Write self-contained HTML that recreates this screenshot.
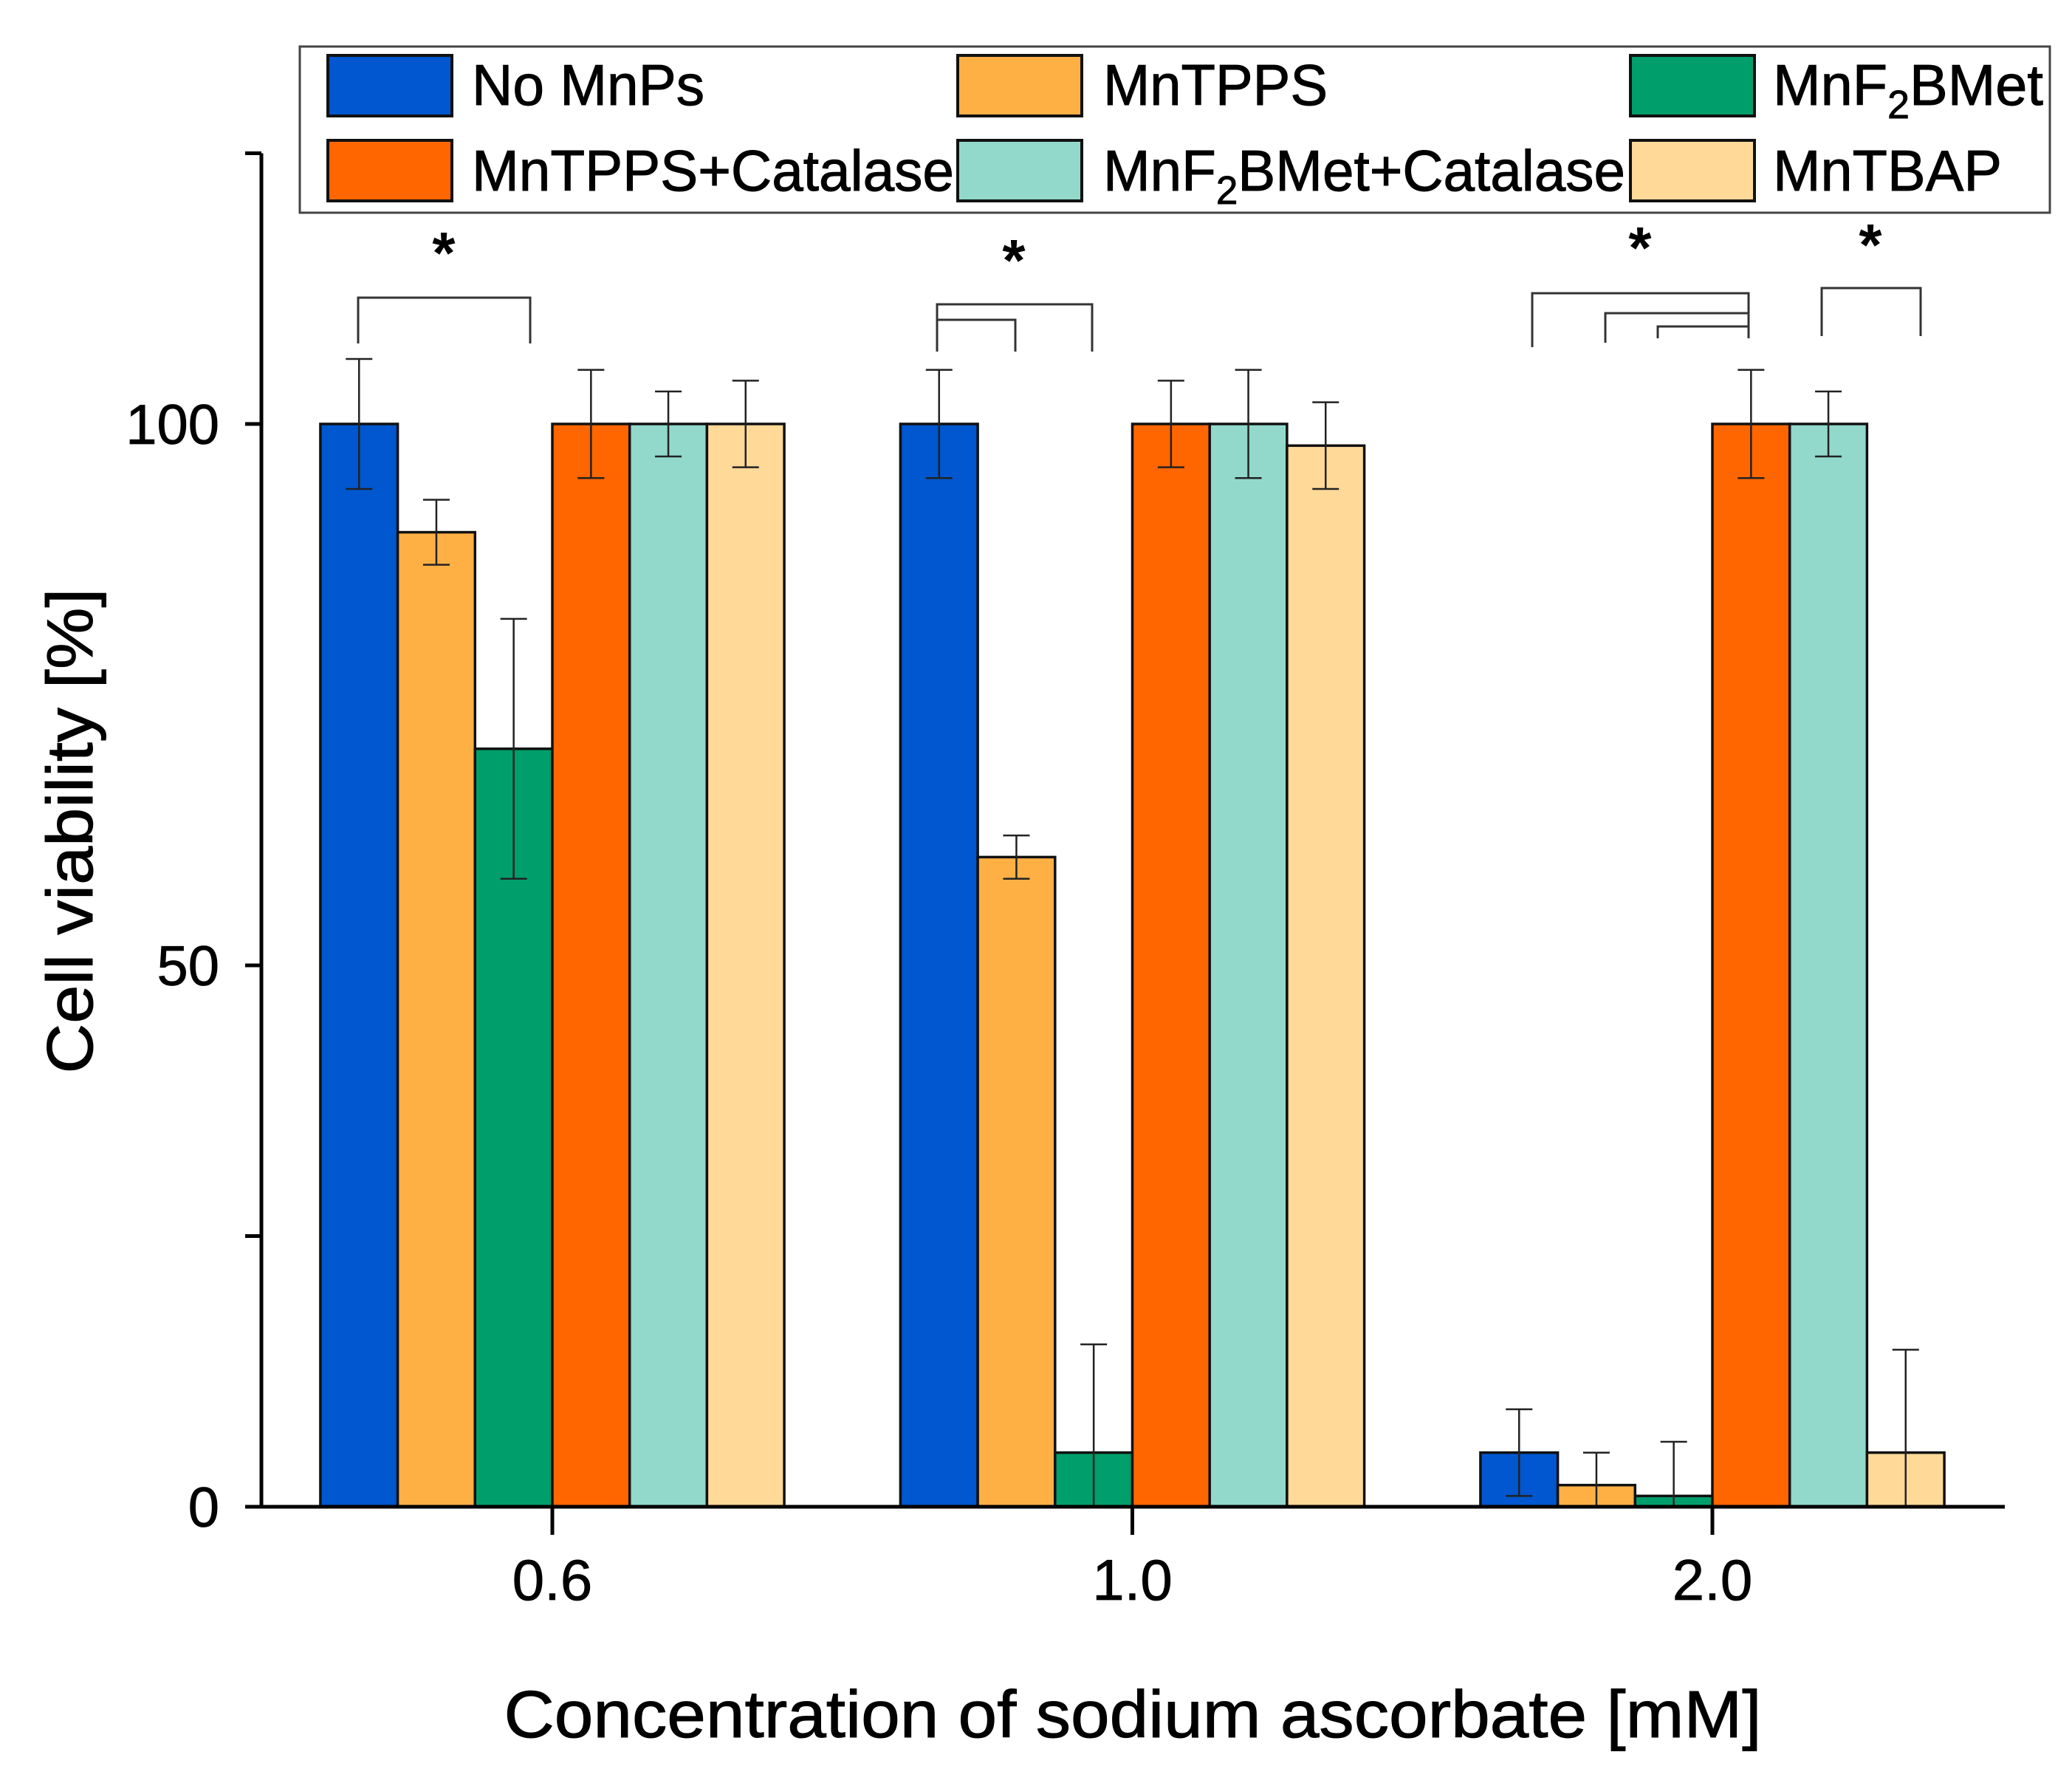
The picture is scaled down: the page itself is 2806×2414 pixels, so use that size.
<!DOCTYPE html>
<html><head><meta charset="utf-8"><style>
html,body{margin:0;padding:0;background:#fff;}
svg{display:block;font-family:"Liberation Sans",Arial,sans-serif;}
</style></head><body>
<svg id="chart" width="2806" height="2414" viewBox="0 0 2806 2414" xmlns="http://www.w3.org/2000/svg">
<g id="bars"></g>
<g id="errs"></g>
<g id="axes"></g>
<g id="sig" stroke="#333" stroke-width="3" fill="none">
  <path d="M485 465 V403 H718 V465"/>
  <path d="M1269 476 V412 H1479 V476"/>
  <path d="M1269 476 V433 H1375 V476"/>
  <path d="M2075 470 V397 H2368 V458"/>
  <path d="M2174 464 V424 H2368"/>
  <path d="M2245 458 V442 H2368"/>
  <path d="M2467 455 V390 H2601 V455"/>
</g>
<g font-size="80" font-weight="bold" text-anchor="middle">
  <text x="601" y="370">*</text>
  <text x="1373" y="380">*</text>
  <text x="2221" y="363">*</text>
  <text x="2533" y="359">*</text>
</g>
<g id="legend"></g>
<text x="0" y="0" font-size="88" text-anchor="middle" transform="translate(125,1125) rotate(-90)" textLength="657" lengthAdjust="spacingAndGlyphs" stroke="#000" stroke-width="1">Cell viability [%]</text>
<text x="1534" y="2352" font-size="90" text-anchor="middle" textLength="1703" lengthAdjust="spacingAndGlyphs" stroke="#000" stroke-width="1">Concentration of sodium ascorbate [mM]</text>
</svg>
<script>
const categories = ["0.6", "1.0", "2.0"];
const seriesNames = ["No MnPs", "MnTPPS", "MnF2BMet", "MnTPPS+Catalase", "MnF2BMet+Catalase", "MnTBAP"];
const seriesColors = ["#0057CF", "#FFB045", "#009E6B", "#FF6600", "#92D9CB", "#FFD998"];
const sNoMnPs = [100, 100, 5];
const sNoMnPsErr = [6, 5, 4];
const sMnTPPS = [90, 60, 2];
const sMnTPPSErr = [3, 2, 3];
const sMnF2BMet = [70, 5, 1];
const sMnF2BMetErr = [12, 10, 5];
const sMnTPPSCat = [100, 100, 100];
const sMnTPPSCatErr = [5, 4, 5];
const sMnF2BMetCat = [100, 100, 100];
const sMnF2BMetCatErr = [3, 5, 3];
const sMnTBAP = [100, 98, 5];
const sMnTBAPErr = [4, 4, 9.5];
const yTicks = [0, 50, 100];
const yMinorTicks = [25, 125];

const NS = "http://www.w3.org/2000/svg";
const X0 = 354, XR = 2715, Y0 = 2040, PX_PER = 14.66;
const yS = v => Y0 - v * PX_PER;
const groupCenter = i => 748 + i * 785.5;
const BW = 104.7;
const series = [sNoMnPs, sMnTPPS, sMnF2BMet, sMnTPPSCat, sMnF2BMetCat, sMnTBAP];
const errs = [sNoMnPsErr, sMnTPPSErr, sMnF2BMetErr, sMnTPPSCatErr, sMnF2BMetCatErr, sMnTBAPErr];
function mk(tag, attrs, parent) {
  const e = document.createElementNS(NS, tag);
  for (const k in attrs) e.setAttribute(k, attrs[k]);
  parent.appendChild(e);
  return e;
}
const gb = document.getElementById('bars'), ge = document.getElementById('errs'), ga = document.getElementById('axes'), gl = document.getElementById('legend');
categories.forEach((c, ci) => {
  series.forEach((s, si) => {
    const x = groupCenter(ci) - 3 * BW + si * BW;
    const r = mk('rect', {x: x, y: yS(s[ci]), width: BW, height: Y0 - yS(s[ci]), fill: seriesColors[si], stroke: '#111', 'stroke-width': 3.5}, gb);
    
    
    const cx = x + BW / 2, hi = yS(s[ci] + errs[si][ci]), lo = yS(Math.max(0, s[ci] - errs[si][ci]));
    const p = mk('path', {d: `M${cx} ${hi}V${lo}M${cx-18} ${hi}H${cx+18}M${cx-18} ${lo}H${cx+18}`, stroke: '#222', 'stroke-width': 2.5, fill: 'none'}, ge);
    
    
  });
  const t = mk('line', {x1: groupCenter(ci), x2: groupCenter(ci), y1: Y0, y2: Y0 + 38, stroke: '#000', 'stroke-width': 5}, ga);
  
  
  const tl = mk('text', {x: groupCenter(ci), y: 2166, 'font-size': 78, 'text-anchor': 'middle', stroke: '#000', 'stroke-width': 0.8}, ga);
  tl.textContent = c;
  
  
});
const ax = mk('path', {d: `M${X0} ${yS(125)}V${Y0}H${XR}`, stroke: '#000', 'stroke-width': 5, fill: 'none'}, ga);


yTicks.concat(yMinorTicks).forEach(v => {
  const l = mk('line', {x1: X0 - 22, x2: X0, y1: yS(v), y2: yS(v), stroke: '#000', 'stroke-width': 5}, ga);
  
  
});
yTicks.forEach(v => {
  const t = mk('text', {x: 297, y: yS(v) + 27, 'font-size': 76, 'text-anchor': 'end', stroke: '#000', 'stroke-width': 0.8}, ga);
  t.textContent = v;
  
  
});
const box = mk('rect', {x: 406, y: 63, width: 2370, height: 225, fill: '#fff', stroke: '#444', 'stroke-width': 3}, gl);


const legOrder = [[0, 0, 0], [1, 1, 0], [2, 2, 0], [3, 0, 1], [4, 1, 1], [5, 2, 1]];
const colSw = [444, 1297, 2208], colTx = [639, 1494, 2401];
const txtLen = [315, 304, 366, 653, 707, 310];
legOrder.forEach(([si, col, row]) => {
  const sy = row ? 190 : 75;
  const sw = mk('rect', {x: colSw[col], y: sy, width: 168, height: 82, fill: seriesColors[si], stroke: '#111', 'stroke-width': 4}, gl);
  
  
  const t = mk('text', {x: colTx[col], y: row ? 258 : 142, 'font-size': 78, textLength: txtLen[si], lengthAdjust: 'spacingAndGlyphs', stroke: '#000', 'stroke-width': 1}, gl);
  const nm = seriesNames[si];
  if (nm.indexOf('F2') >= 0) {
    const parts = nm.split('F2');
    t.appendChild(document.createTextNode(parts[0] + 'F'));
    const sub = mk('tspan', {'font-size': 54, dy: 18}, t);
    sub.textContent = '2';
    const rest = mk('tspan', {dy: -18}, t);
    rest.textContent = parts[1];
  } else t.textContent = nm;
  
  
});
</script>
</body></html>
